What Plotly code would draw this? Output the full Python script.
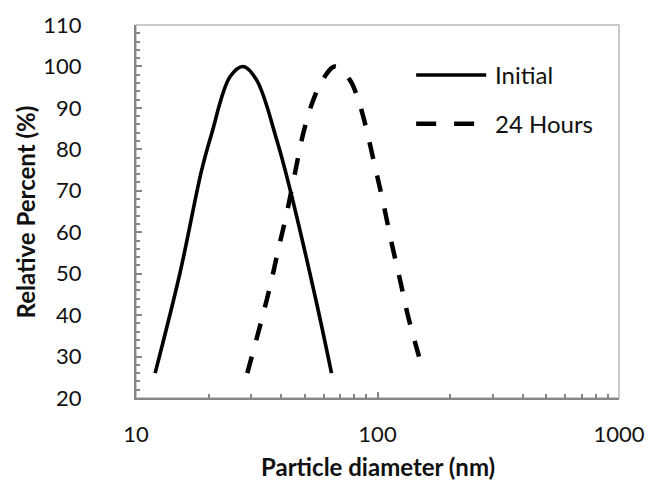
import plotly.graph_objects as go

# Data
initial_x = [12.0, 15.2, 18.7, 20.6, 24.5, 27.8, 31.6, 38.3, 43.5, 56.0, 64.5]
initial_y = [26.0, 50.1, 75.0, 83.9, 97.5, 100.0, 96.7, 82.2, 70.2, 42.8, 26.0]

h24_x = [28.9, 33.1, 35.9, 38.8, 42.1, 45.5, 49.3, 54.2, 59.7, 66.7, 76.9, 82.0,
         87.3, 97.7, 105.7, 114.5, 124.0, 134.0, 148.6]
h24_y = [26.0, 38.8, 46.9, 55.7, 64.6, 74.2, 83.9, 91.9, 97.1, 100.0, 96.7, 93.1,
         87.9, 75.8, 67.0, 57.3, 48.5, 39.6, 30.0]

series_names = ["Initial", "24 Hours"]
x_tickvals = [10, 100, 1000]
x_ticktext = ["10", "100", "1000"]

FONT = "Lato"
AXIS_GRAY = "#868686"
TXT = "#111111"

fig = go.Figure()
fig.add_trace(go.Scatter(x=initial_x, y=initial_y, mode="lines", name=series_names[0],
                         line=dict(color="black", width=3.6, shape="spline", smoothing=1.0),
                         showlegend=False))
fig.add_trace(go.Scatter(x=h24_x, y=h24_y, mode="lines", name=series_names[1],
                         line=dict(color="black", width=4.5, dash="17px,17px",
                                   shape="spline", smoothing=1.0),
                         showlegend=False))

# plot border (top/right light frame)
fig.add_shape(type="rect", xref="paper", yref="paper", x0=0, x1=1, y0=0, y1=1,
              line=dict(color="#b8b8b8", width=1.5), layer="below")

# manual legend (Excel style long samples)
leg = [(series_names[0], 0.866, None, 3.6), (series_names[1], 0.735, "20px,18px", 4.5)]
for name, yy, dash, w in leg:
    ld = dict(color="black", width=w)
    if dash:
        ld["dash"] = dash
    fig.add_shape(type="line", xref="paper", yref="paper", x0=0.580, x1=0.725,
                  y0=yy, y1=yy, line=ld)
    fig.add_annotation(xref="paper", yref="paper", x=0.739, y=yy, text=name,
                       showarrow=False, xanchor="left", yanchor="middle",
                       font=dict(family=FONT, size=24, color=TXT))

# axis titles as annotations placed relative to the plot area
fig.add_annotation(xref="paper", yref="paper", x=0.5, y=-0.228, yanchor="bottom",
                   text="<b>Particle diameter (nm)</b>", showarrow=False,
                   font=dict(family=FONT, size=24, color=TXT))
fig.add_annotation(xref="paper", yref="paper", x=-0.228, xanchor="center", y=0.5,
                   text="<b>Relative Percent (%)</b>", showarrow=False, textangle=-90,
                   font=dict(family=FONT, size=24, color=TXT))

fig.update_layout(
    width=648, height=484,
    margin=dict(l=136, r=29, t=25, b=86),
    paper_bgcolor="white", plot_bgcolor="white",
    font=dict(family=FONT, size=22, color=TXT),
    showlegend=False,
)
fig.update_xaxes(
    type="log", range=[1, 3], automargin=False,
    tickvals=x_tickvals, ticktext=x_ticktext,
    ticks="inside", ticklen=6, tickwidth=1.5, tickcolor=AXIS_GRAY,
    minor=dict(ticks="inside", ticklen=4, tickwidth=1.5, tickcolor=AXIS_GRAY,
               tickvals=[v * d for v in (10, 100) for d in range(2, 10)]),
    showline=True, linecolor=AXIS_GRAY, linewidth=2,
    showgrid=False, zeroline=False,
    ticklabelstandoff=16,
)
fig.update_yaxes(
    range=[20, 110], dtick=10, tick0=0, automargin=False,
    ticks="inside", ticklen=6, tickwidth=1.5, tickcolor=AXIS_GRAY,
    minor=dict(ticks="inside", ticklen=4, tickwidth=1.5, tickcolor=AXIS_GRAY, dtick=2),
    showline=True, linecolor=AXIS_GRAY, linewidth=2,
    showgrid=False, zeroline=False,
    ticklabelstandoff=48,
)

fig.write_html("out.html", config={"displayModeBar": False},
               post_script="document.body.style.margin='0';document.body.style.overflow='hidden';")
